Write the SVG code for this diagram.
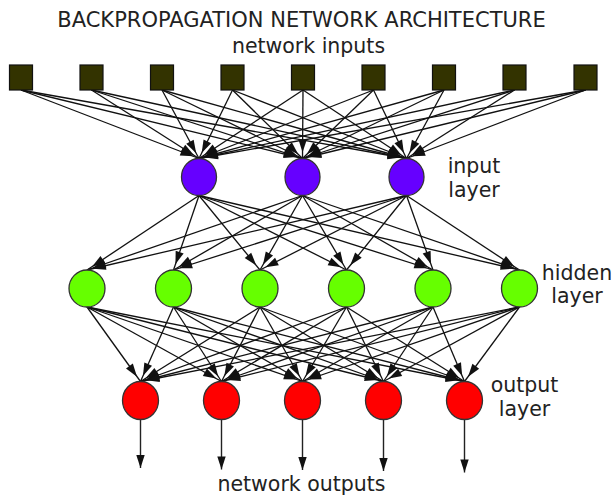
<svg xmlns="http://www.w3.org/2000/svg" width="612" height="499" viewBox="0 0 612 499">
<style>
.e{stroke:#111;stroke-width:1.3;fill:none;marker-end:url(#ah)}
.o{stroke:#222;stroke-width:1.4;fill:none;marker-end:url(#ao)}
.sq{fill:#333300;stroke:#111;stroke-width:1.2}
.in{fill:#6600ff;stroke:#333;stroke-width:1.3}
.hd{fill:#66ff00;stroke:#333;stroke-width:1.3}
.ou{fill:#ff0000;stroke:#333;stroke-width:1.3}
text{font-family:"DejaVu Sans",Verdana,sans-serif;fill:#222;text-anchor:middle}
.lb{font-size:20.5px}
.tt{font-size:21px}
</style>
<defs>
<marker id="ah" markerUnits="userSpaceOnUse" viewBox="0 0 20 10" markerWidth="20" markerHeight="10" refX="19" refY="5" orient="auto" overflow="visible">
<path d="M0,0.8 L13,5 L0,9.2 z" fill="#111"/>
</marker>
<marker id="ao" markerUnits="userSpaceOnUse" viewBox="0 0 14 10" markerWidth="14" markerHeight="10" refX="13" refY="5" orient="auto" overflow="visible">
<path d="M0,0.8 L13,5 L0,9.2 z" fill="#111"/>
</marker>
</defs>
<text class="tt" x="301.5" y="26.5">BACKPROPAGATION NETWORK ARCHITECTURE</text>
<text class="lb" x="308.5" y="53">network inputs</text>
<g id="connectors">
<line class="e" x1="21" y1="90" x2="199" y2="158.5"/>
<line class="e" x1="21" y1="90" x2="302.5" y2="158.5"/>
<line class="e" x1="21" y1="90" x2="406.5" y2="158.5"/>
<line class="e" x1="91.5" y1="90" x2="199" y2="158.5"/>
<line class="e" x1="91.5" y1="90" x2="302.5" y2="158.5"/>
<line class="e" x1="91.5" y1="90" x2="406.5" y2="158.5"/>
<line class="e" x1="162" y1="90" x2="199" y2="158.5"/>
<line class="e" x1="162" y1="90" x2="302.5" y2="158.5"/>
<line class="e" x1="162" y1="90" x2="406.5" y2="158.5"/>
<line class="e" x1="232.5" y1="90" x2="199" y2="158.5"/>
<line class="e" x1="232.5" y1="90" x2="302.5" y2="158.5"/>
<line class="e" x1="232.5" y1="90" x2="406.5" y2="158.5"/>
<line class="e" x1="303" y1="90" x2="199" y2="158.5"/>
<line class="e" x1="303" y1="90" x2="302.5" y2="158.5"/>
<line class="e" x1="303" y1="90" x2="406.5" y2="158.5"/>
<line class="e" x1="373.5" y1="90" x2="199" y2="158.5"/>
<line class="e" x1="373.5" y1="90" x2="302.5" y2="158.5"/>
<line class="e" x1="373.5" y1="90" x2="406.5" y2="158.5"/>
<line class="e" x1="444" y1="90" x2="199" y2="158.5"/>
<line class="e" x1="444" y1="90" x2="302.5" y2="158.5"/>
<line class="e" x1="444" y1="90" x2="406.5" y2="158.5"/>
<line class="e" x1="514.5" y1="90" x2="199" y2="158.5"/>
<line class="e" x1="514.5" y1="90" x2="302.5" y2="158.5"/>
<line class="e" x1="514.5" y1="90" x2="406.5" y2="158.5"/>
<line class="e" x1="585.5" y1="90" x2="199" y2="158.5"/>
<line class="e" x1="585.5" y1="90" x2="302.5" y2="158.5"/>
<line class="e" x1="585.5" y1="90" x2="406.5" y2="158.5"/>

<line class="e" x1="199" y1="195.5" x2="87" y2="270"/>
<line class="e" x1="199" y1="195.5" x2="173.5" y2="270"/>
<line class="e" x1="199" y1="195.5" x2="260" y2="270"/>
<line class="e" x1="199" y1="195.5" x2="346.5" y2="270"/>
<line class="e" x1="199" y1="195.5" x2="433" y2="270"/>
<line class="e" x1="199" y1="195.5" x2="519.5" y2="270"/>
<line class="e" x1="302.5" y1="195.5" x2="87" y2="270"/>
<line class="e" x1="302.5" y1="195.5" x2="173.5" y2="270"/>
<line class="e" x1="302.5" y1="195.5" x2="260" y2="270"/>
<line class="e" x1="302.5" y1="195.5" x2="346.5" y2="270"/>
<line class="e" x1="302.5" y1="195.5" x2="433" y2="270"/>
<line class="e" x1="302.5" y1="195.5" x2="519.5" y2="270"/>
<line class="e" x1="406.5" y1="195.5" x2="87" y2="270"/>
<line class="e" x1="406.5" y1="195.5" x2="173.5" y2="270"/>
<line class="e" x1="406.5" y1="195.5" x2="260" y2="270"/>
<line class="e" x1="406.5" y1="195.5" x2="346.5" y2="270"/>
<line class="e" x1="406.5" y1="195.5" x2="433" y2="270"/>
<line class="e" x1="406.5" y1="195.5" x2="519.5" y2="270"/>

<line class="e" x1="87" y1="307" x2="140.5" y2="381.5"/>
<line class="e" x1="87" y1="307" x2="221.5" y2="381.5"/>
<line class="e" x1="87" y1="307" x2="302.5" y2="381.5"/>
<line class="e" x1="87" y1="307" x2="383.5" y2="381.5"/>
<line class="e" x1="87" y1="307" x2="464.5" y2="381.5"/>
<line class="e" x1="173.5" y1="307" x2="140.5" y2="381.5"/>
<line class="e" x1="173.5" y1="307" x2="221.5" y2="381.5"/>
<line class="e" x1="173.5" y1="307" x2="302.5" y2="381.5"/>
<line class="e" x1="173.5" y1="307" x2="383.5" y2="381.5"/>
<line class="e" x1="173.5" y1="307" x2="464.5" y2="381.5"/>
<line class="e" x1="260" y1="307" x2="140.5" y2="381.5"/>
<line class="e" x1="260" y1="307" x2="221.5" y2="381.5"/>
<line class="e" x1="260" y1="307" x2="302.5" y2="381.5"/>
<line class="e" x1="260" y1="307" x2="383.5" y2="381.5"/>
<line class="e" x1="260" y1="307" x2="464.5" y2="381.5"/>
<line class="e" x1="346.5" y1="307" x2="140.5" y2="381.5"/>
<line class="e" x1="346.5" y1="307" x2="221.5" y2="381.5"/>
<line class="e" x1="346.5" y1="307" x2="302.5" y2="381.5"/>
<line class="e" x1="346.5" y1="307" x2="383.5" y2="381.5"/>
<line class="e" x1="346.5" y1="307" x2="464.5" y2="381.5"/>
<line class="e" x1="433" y1="307" x2="140.5" y2="381.5"/>
<line class="e" x1="433" y1="307" x2="221.5" y2="381.5"/>
<line class="e" x1="433" y1="307" x2="302.5" y2="381.5"/>
<line class="e" x1="433" y1="307" x2="383.5" y2="381.5"/>
<line class="e" x1="433" y1="307" x2="464.5" y2="381.5"/>
<line class="e" x1="519.5" y1="307" x2="140.5" y2="381.5"/>
<line class="e" x1="519.5" y1="307" x2="221.5" y2="381.5"/>
<line class="e" x1="519.5" y1="307" x2="302.5" y2="381.5"/>
<line class="e" x1="519.5" y1="307" x2="383.5" y2="381.5"/>
<line class="e" x1="519.5" y1="307" x2="464.5" y2="381.5"/>

<line class="o" x1="140.5" y1="419.5" x2="140.5" y2="468"/>
<line class="o" x1="221.5" y1="419.5" x2="221.5" y2="469.5"/>
<line class="o" x1="302.5" y1="419.5" x2="302.5" y2="470"/>
<line class="o" x1="383.5" y1="419.5" x2="383.5" y2="471"/>
<line class="o" x1="464.5" y1="419.5" x2="464.5" y2="472.5"/>
</g>
<g id="inputs">
<rect id="x1" class="sq" x="9.5" y="65" width="23" height="25"/>
<rect id="x2" class="sq" x="80" y="65" width="23" height="25"/>
<rect id="x3" class="sq" x="150.5" y="65" width="23" height="25"/>
<rect id="x4" class="sq" x="221" y="65" width="23" height="25"/>
<rect id="x5" class="sq" x="291.5" y="65" width="23" height="25"/>
<rect id="x6" class="sq" x="362" y="65" width="23" height="25"/>
<rect id="x7" class="sq" x="432.5" y="65" width="23" height="25"/>
<rect id="x8" class="sq" x="503" y="65" width="23" height="25"/>
<rect id="x9" class="sq" x="574" y="65" width="23" height="25"/>
</g>
<g id="input-layer">
<ellipse id="i1" class="in" cx="199" cy="177" rx="17.5" ry="18.5"/>
<ellipse id="i2" class="in" cx="302.5" cy="177" rx="17.5" ry="18.5"/>
<ellipse id="i3" class="in" cx="406.5" cy="177" rx="17.5" ry="18.5"/>
<text class="lb" x="474" y="172.5">input</text>
<text class="lb" x="474" y="196.5">layer</text>
</g>
<g id="hidden-layer">
<ellipse id="h1" class="hd" cx="87" cy="288.5" rx="18" ry="18.5"/>
<ellipse id="h2" class="hd" cx="173.5" cy="288.5" rx="18" ry="18.5"/>
<ellipse id="h3" class="hd" cx="260" cy="288.5" rx="18" ry="18.5"/>
<ellipse id="h4" class="hd" cx="346.5" cy="288.5" rx="18" ry="18.5"/>
<ellipse id="h5" class="hd" cx="433" cy="288.5" rx="18" ry="18.5"/>
<ellipse id="h6" class="hd" cx="519.5" cy="288.5" rx="18" ry="18.5"/>
<text class="lb" x="577" y="279.5">hidden</text>
<text class="lb" x="577" y="303">layer</text>
</g>
<g id="output-layer">
<ellipse id="o1" class="ou" cx="140.5" cy="400.5" rx="18" ry="19"/>
<ellipse id="o2" class="ou" cx="221.5" cy="400.5" rx="18" ry="19"/>
<ellipse id="o3" class="ou" cx="302.5" cy="400.5" rx="18" ry="19"/>
<ellipse id="o4" class="ou" cx="383.5" cy="400.5" rx="18" ry="19"/>
<ellipse id="o5" class="ou" cx="464.5" cy="400.5" rx="18" ry="19"/>
<text class="lb" x="524.5" y="391.5">output</text>
<text class="lb" x="524.5" y="415.5">layer</text>
</g>
<text class="lb" x="301.5" y="490.5">network outputs</text>
</svg>
